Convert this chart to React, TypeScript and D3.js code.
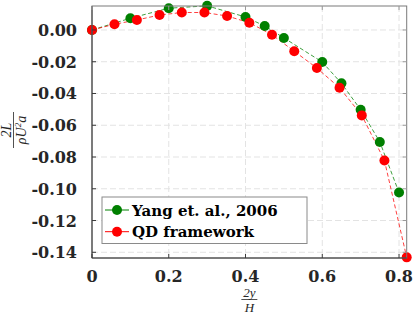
import React, { useEffect, useRef } from "react";
import * as d3 from "d3";

// Yang et al., 2006
const yangX = [0, 0.1, 0.2, 0.3, 0.4, 0.45, 0.5, 0.6, 0.65, 0.7, 0.75, 0.8];
const yangY = [0, 0.0074, 0.0137, 0.0152, 0.0082, 0.0025, -0.005, -0.0202, -0.0336, -0.0502, -0.0705, -0.1024];

// QD framework
const qdX = [0, 0.0586, 0.117, 0.176, 0.234, 0.293, 0.352, 0.41, 0.469, 0.527, 0.586, 0.645, 0.703, 0.762, 0.82];
const qdY = [0, 0.0036, 0.0063, 0.0094, 0.011, 0.011, 0.0088, 0.0046, -0.003, -0.0134, -0.024, -0.0364, -0.0538, -0.0822, -0.1432];

const xTicks = [0, 0.2, 0.4, 0.6, 0.8];
const yTicks = [0, -0.02, -0.04, -0.06, -0.08, -0.1, -0.12, -0.14];
const seriesNames = ["Yang et. al., 2006", "QD framework"];
const seriesColors = ["#008000", "#ff0000"];

const W = 415;
const H = 316;
const margin = { left: 92, right: 8.3, top: 6, bottom: 58 };

export default function App() {
  const ref = useRef<SVGSVGElement>(null);

  useEffect(() => {
    const svg = d3.select(ref.current);
    svg.selectAll("*").remove();

    const x = d3.scaleLinear().domain([0, 0.82]).range([margin.left, W - margin.right]);
    const y = d3.scaleLinear().domain([-0.1436, 0.0151]).range([H - margin.bottom, margin.top]);
    const [x0, x1] = x.range();
    const [y0, y1] = y.range();

    svg.append("rect").attr("width", W).attr("height", H).attr("fill", "#fff");

    // grid
    const grid = svg.append("g").attr("stroke", "#e3e3e3").attr("stroke-width", 1).attr("stroke-dasharray", "6,3");
    grid.selectAll(".gx").data(xTicks.slice(1)).enter().append("line")
      .attr("x1", (d) => x(d)).attr("x2", (d) => x(d)).attr("y1", y1).attr("y2", y0);
    grid.selectAll(".gy").data(yTicks).enter().append("line")
      .attr("x1", x0).attr("x2", x1).attr("y1", (d) => y(d)).attr("y2", (d) => y(d));

    // data lines + markers
    const series = [
      yangX.map((v, i) => [v, yangY[i]]),
      qdX.map((v, i) => [v, qdY[i]]),
    ];
    const line = d3.line<number[]>().x((d) => x(d[0])).y((d) => y(d[1]));
    series.forEach((s, i) => {
      svg.append("path").datum(s).attr("d", line).attr("fill", "none")
        .attr("stroke", seriesColors[i]).attr("stroke-width", 1).attr("stroke-opacity", 0.75)
        .attr("stroke-dasharray", "4,2.5");
    });
    series.forEach((s, i) => {
      svg.append("g").selectAll("circle").data(s).enter().append("circle")
        .attr("cx", (d) => x(d[0])).attr("cy", (d) => y(d[1])).attr("r", 5)
        .attr("fill", seriesColors[i]);
    });

    // frame and ticks
    const axisColor = "#3a3a3a";
    svg.append("rect").attr("x", x0).attr("y", y1).attr("width", x1 - x0).attr("height", y0 - y1)
      .attr("fill", "none").attr("stroke", "#7a7a7a").attr("stroke-width", 1);
    svg.append("line").attr("x1", x0).attr("x2", x0).attr("y1", y1).attr("y2", y0).attr("stroke", axisColor);
    svg.append("line").attr("x1", x0).attr("x2", x1).attr("y1", y0).attr("y2", y0).attr("stroke", axisColor);
    const ticks = svg.append("g").attr("stroke", axisColor).attr("stroke-width", 1);
    xTicks.forEach((t) => {
      ticks.append("line").attr("x1", x(t)).attr("x2", x(t)).attr("y1", y0).attr("y2", y0 - 4);
      ticks.append("line").attr("x1", x(t)).attr("x2", x(t)).attr("y1", y1).attr("y2", y1 + 4).attr("stroke", "#9a9a9a");
    });
    yTicks.forEach((t) => {
      ticks.append("line").attr("x1", x0).attr("x2", x0 + 4).attr("y1", y(t)).attr("y2", y(t));
      ticks.append("line").attr("x1", x1).attr("x2", x1 - 4).attr("y1", y(t)).attr("y2", y(t)).attr("stroke", "#9a9a9a");
    });

    const font = "'DejaVu Serif', serif";
    svg.append("g").selectAll("text").data(xTicks).enter().append("text")
      .attr("x", (d) => x(d)).attr("y", 281.5).attr("text-anchor", "middle")
      .attr("font-family", font).attr("font-weight", "bold").attr("font-size", 16).attr("fill", "#262626")
      .text((d) => (d === 0 ? "0" : d3.format(".1f")(d)));
    svg.append("g").selectAll("text").data(yTicks).enter().append("text")
      .attr("x", 77).attr("y", (d) => y(d) + 6).attr("text-anchor", "end")
      .attr("font-family", font).attr("font-weight", "bold").attr("font-size", 16).attr("fill", "#262626")
      .text((d) => d3.format(".2f")(d).replace("−", "-"));

    // axis labels as fractions
    const xl = svg.append("g").attr("transform", `translate(${(x0 + x1) / 2},299.5)`)
      .attr("font-family", "'Liberation Serif', serif").attr("font-style", "italic").attr("font-size", 13).attr("fill", "#262626");
    xl.append("text").attr("y", -2.5).attr("text-anchor", "middle").text("2y");
    xl.append("line").attr("x1", -8).attr("x2", 8).attr("stroke", "#262626").attr("stroke-width", 0.8);
    xl.append("text").attr("y", 12).attr("text-anchor", "middle").text("H");

    const yl = svg.append("g").attr("transform", "translate(13.5,130) rotate(-90)")
      .attr("font-family", "'Liberation Serif', serif").attr("font-style", "italic").attr("font-size", 14).attr("fill", "#262626");
    yl.append("text").attr("y", -3).attr("text-anchor", "middle").text("2L");
    const den = yl.append("text").attr("y", 12).attr("text-anchor", "middle");
    den.append("tspan").text("ρU");
    den.append("tspan").attr("font-size", 9).attr("dy", -5).text("2");
    den.append("tspan").attr("dy", 5).text("a");
    yl.append("line").attr("x1", -18).attr("x2", 18).attr("stroke", "#262626").attr("stroke-width", 0.8);

    // legend
    const lg = svg.append("g");
    lg.append("rect").attr("x", 102).attr("y", 197).attr("width", 205).attr("height", 46.5)
      .attr("fill", "#fff").attr("stroke", "#8a8a8a").attr("stroke-width", 1);
    seriesNames.forEach((name, i) => {
      const cy = 210 + i * 21.7;
      lg.append("line").attr("x1", 105).attr("x2", 129).attr("y1", cy).attr("y2", cy)
        .attr("stroke", seriesColors[i]).attr("stroke-width", 1);
      lg.append("circle").attr("cx", 117).attr("cy", cy).attr("r", 5).attr("fill", seriesColors[i]);
      lg.append("text").attr("x", 132).attr("y", cy + 5.5)
        .attr("font-family", font).attr("font-weight", "bold").attr("font-size", 15).attr("fill", "#000")
        .text(name);
    });
  }, []);

  return <svg ref={ref} width={W} height={H} style={{ position: "absolute", left: 0, top: 0 }} />;
}
